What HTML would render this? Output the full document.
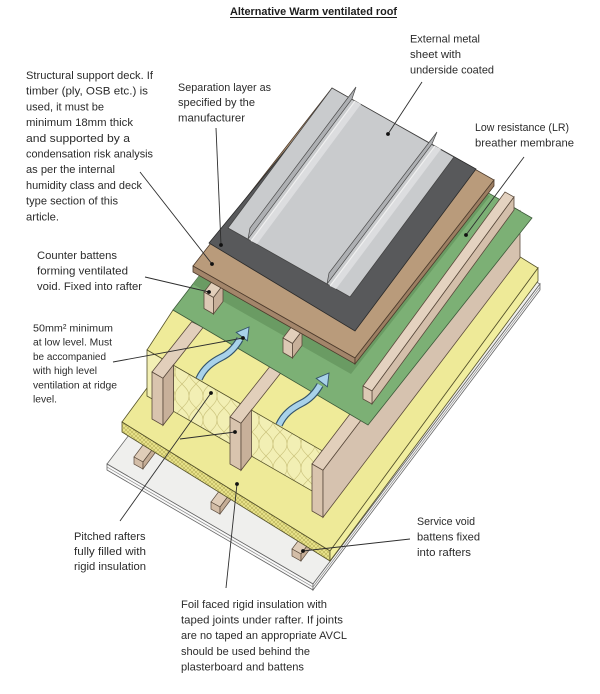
<!DOCTYPE html>
<html>
<head>
<meta charset="utf-8">
<style>
html,body{margin:0;padding:0;background:#fff;}
svg{display:block;}
text{font-family:"Liberation Sans",Arial,sans-serif;fill:#2b2b2b;}
</style>
</head>
<body>
<svg width="600" height="694" viewBox="0 0 600 694" xmlns="http://www.w3.org/2000/svg">
<defs>
  <pattern id="hatch" patternUnits="userSpaceOnUse" width="4" height="4">
    <rect width="4" height="4" fill="#e9e38c"/>
    <path d="M0,0 L4,4 M4,0 L0,4" stroke="#b9b158" stroke-width="0.6"/>
  </pattern>
  <pattern id="wavy" patternUnits="userSpaceOnUse" width="14" height="24">
    <rect width="14" height="24" fill="#f2efb4"/>
    <path d="M0,0 C6,6 7,8 7,12 C7,16 6,18 0,24 M14,0 C8,6 7,8 7,12 C7,16 8,18 14,24" stroke="#cbc37c" stroke-width="0.7" fill="none"/>
  </pattern>
  <clipPath id="greenclip">
    <polygon points="173,310 368,425 532,218 332,103"/>
  </clipPath>
</defs>

<!-- Plasterboard -->
<polygon points="107,464 313,584 540,284 334,164" fill="#efefed" stroke="#666" stroke-width="0.8"/>
<polygon points="107,464 313,584 313,590 107,470" fill="#fafafa" stroke="#666" stroke-width="0.8"/>
<polygon points="313,584 540,284 540,290 313,590" fill="#fafafa" stroke="#666" stroke-width="0.8"/>
<line x1="107" y1="467" x2="313" y2="587" stroke="#888" stroke-width="0.7"/>
<line x1="313" y1="587" x2="540" y2="287" stroke="#888" stroke-width="0.7"/>

<!-- Service void battens -->
<g stroke="#5a4a3c" stroke-width="0.7">
  <polygon points="134,457 143,462 158,442 149,437" fill="#e0cdb9"/>
  <polygon points="134,457 143,462 143,469 134,464" fill="#d3bda7"/>
  <polygon points="143,462 158,442 158,449 143,469" fill="#c5ad96"/>

  <polygon points="211,502 220,507 235,487 226,482" fill="#e0cdb9"/>
  <polygon points="211,502 220,507 220,514 211,509" fill="#d3bda7"/>
  <polygon points="220,507 235,487 235,494 220,514" fill="#c5ad96"/>

  <polygon points="292,549 301,554 316,534 307,529" fill="#e0cdb9"/>
  <polygon points="292,549 301,554 301,561 292,556" fill="#d3bda7"/>
  <polygon points="301,554 316,534 316,541 301,561" fill="#c5ad96"/>
</g>

<!-- Rigid foil faced board -->
<polygon points="122,422 330,551 538,268 330,139" fill="#eeea98" stroke="#55522a" stroke-width="0.8"/>
<polygon points="122,422 330,551 330,561 122,432" fill="url(#hatch)" stroke="#55522a" stroke-width="0.8"/>
<polygon points="330,551 538,268 538,281 330,561" fill="#f1ee9f" stroke="#55522a" stroke-width="0.8"/>

<!-- Insulation top between rafters -->
<polygon points="147,350 322,451 356,408 173,310" fill="#efeb99" stroke="#55522a" stroke-width="0.8"/>

<!-- Insulation front faces -->
<polygon points="147,350 162,358.6 162,404.6 147,396" fill="#f2efb4" stroke="#55522a" stroke-width="0.8"/>
<polygon points="173.5,365.3 240,403.5 240,449.5 173.5,411.3" fill="url(#wavy)" stroke="#55522a" stroke-width="0.8"/>
<polygon points="251,409.8 322,450.7 322,496.7 251,455.8" fill="url(#wavy)" stroke="#55522a" stroke-width="0.8"/>

<!-- Rafters -->
<g stroke="#5a4a3c" stroke-width="0.8">
  <polygon points="152,372 163,378.3 203.2,327.4 191.7,321.8" fill="#e2cfbb"/>
  <polygon points="152,372 163,378.3 163,425.3 152,419" fill="#d9c4ae"/>
  <polygon points="163,378.3 173.5,364.8 173.5,411.8 163,425.3" fill="#c8b09a"/>

  <polygon points="230,417 241,423.3 281.3,372.3 270.3,366" fill="#e2cfbb"/>
  <polygon points="230,417 241,423.3 241,470.3 230,464" fill="#d9c4ae"/>
  <polygon points="241,423.3 251.5,409.8 251.5,456.8 241,470.3" fill="#c8b09a"/>

  <polygon points="312,464 323,470.3 520,211 509,204.7" fill="#e2cfbb"/>
  <polygon points="312,464 323,470.3 323,517.3 312,511" fill="#d9c4ae"/>
  <polygon points="323,470.3 520,211 520,258 323,517.3" fill="#d6c2af"/>
</g>

<!-- Green membrane -->
<polygon points="173,310 368,425 532,218 332,103" fill="#7cb075" stroke="#3d5a3a" stroke-width="0.8"/>
<g clip-path="url(#greenclip)">
  <polygon points="189,282 351,374 490,196 328,104" fill="#6a9b63"/>
</g>

<!-- Counter battens -->
<g stroke="#5a4a3c" stroke-width="0.8">
  <polygon points="204,292 213.5,297.5 223,285 213.5,279.5" fill="#e2cfbb"/>
  <polygon points="204,292 213.5,297.5 213.5,314 204,308.5" fill="#ddc9b5"/>
  <polygon points="213.5,297.5 223,285 223,301.5 213.5,314" fill="#c8b09a"/>

  <polygon points="283,338 292.5,343.5 302,331 292.5,325.5" fill="#e2cfbb"/>
  <polygon points="283,338 292.5,343.5 292.5,358 283,352.5" fill="#ddc9b5"/>
  <polygon points="292.5,343.5 302,331 302,345.5 292.5,358" fill="#c8b09a"/>

  <polygon points="363,386 372,391 514,197 505,192" fill="#e4d2c0"/>
  <polygon points="372,391 514,197 514,210 372,404" fill="#d4bfab"/>
  <polygon points="363,386 372,391 372,404 363,399" fill="#ddc9b5"/>
</g>

<!-- Brown deck -->
<polygon points="193,266 355,358 494,180 332,88" fill="#b99b7b" stroke="#4d3b2c" stroke-width="0.8"/>
<polygon points="193,266 355,358 355,364 193,272" fill="#a3856a" stroke="#4d3b2c" stroke-width="0.8"/>
<polygon points="355,358 494,180 494,186 355,364" fill="#9c7e62" stroke="#4d3b2c" stroke-width="0.8"/>

<!-- Dark separation layer -->
<polygon points="209,243 355,331 476,169 335,90" fill="#58595b" stroke="#2a2a2a" stroke-width="0.8"/>

<!-- Metal sheet -->
<polygon points="228,228 350,297 454,157 332,88" fill="#c9cbcd" stroke="#444" stroke-width="0.8"/>
<polygon points="251,241 355,101 361,104 257,244" fill="#dcdddf"/>
<polygon points="330,286 435,146 441,149 336,289" fill="#dcdddf"/>
<polygon points="248,239 352,99 356,87 250,228" fill="#aeb0b3" stroke="#4a4a4a" stroke-width="0.7"/>
<polygon points="327,284 432,144 437,132 329,273" fill="#aeb0b3" stroke="#4a4a4a" stroke-width="0.7"/>
<line x1="251" y1="241" x2="355" y2="101" stroke="#f0f0f0" stroke-width="1.2"/>
<line x1="330" y1="286" x2="435" y2="146" stroke="#f0f0f0" stroke-width="1.2"/>

<!-- Arrows -->
<g id="arr1">
  <path d="M199,379 C204,368 212,362 222,357 C230,353 236,346 240,339" stroke="#34546a" stroke-width="7.5" fill="none"/>
  <path d="M199,379 C204,368 212,362 222,357 C230,353 236,346 240,339" stroke="#a8d2ea" stroke-width="5.2" fill="none"/>
  <polygon points="249,327 236.2,332.4 247.4,340.8" fill="#a8d2ea" stroke="#34546a" stroke-width="0.9"/>
</g>
<g transform="translate(80,46)">
  <path d="M199,379 C204,368 212,362 222,357 C230,353 236,346 240,339" stroke="#34546a" stroke-width="7.5" fill="none"/>
  <path d="M199,379 C204,368 212,362 222,357 C230,353 236,346 240,339" stroke="#a8d2ea" stroke-width="5.2" fill="none"/>
  <polygon points="249,327 236.2,332.4 247.4,340.8" fill="#a8d2ea" stroke="#34546a" stroke-width="0.9"/>
</g>

<!-- Leader lines -->
<g stroke="#2e2e2e" stroke-width="0.9">
  <line x1="140" y1="172" x2="212" y2="264"/>
  <line x1="216" y1="128" x2="221" y2="245"/>
  <line x1="422" y1="82" x2="388" y2="134"/>
  <line x1="524" y1="157" x2="466" y2="235"/>
  <line x1="145" y1="277" x2="209" y2="292"/>
  <line x1="113" y1="362" x2="243" y2="338"/>
  <line x1="120" y1="521" x2="211" y2="393"/>
  <line x1="180" y1="439" x2="235" y2="432"/>
  <line x1="226" y1="588" x2="237" y2="484"/>
  <line x1="410" y1="539" x2="303" y2="551"/>
</g>
<g fill="#111">
  <circle cx="212" cy="264" r="1.9"/>
  <circle cx="221" cy="245" r="1.9"/>
  <circle cx="388" cy="134" r="1.9"/>
  <circle cx="466" cy="235" r="1.9"/>
  <circle cx="209" cy="292" r="1.9"/>
  <circle cx="243" cy="338" r="1.9"/>
  <circle cx="211" cy="393" r="1.9"/>
  <circle cx="235" cy="432" r="1.9"/>
  <circle cx="237" cy="484" r="1.9"/>
  <circle cx="303" cy="551" r="1.9"/>
</g>

<!-- Title -->
<text x="230" y="15" font-size="11" font-weight="bold" textLength="167" lengthAdjust="spacingAndGlyphs" style="fill:#1e1e1e">Alternative Warm ventilated roof</text>
<line x1="230" y1="17.5" x2="397" y2="17.5" stroke="#1e1e1e" stroke-width="0.9"/>

<!-- Block 1 -->
<g font-size="11">
  <text x="26" y="79" textLength="127" lengthAdjust="spacingAndGlyphs">Structural support deck. If</text>
  <text x="26" y="94.7" textLength="122" lengthAdjust="spacingAndGlyphs">timber (ply, OSB etc.) is</text>
  <text x="26" y="110.4" textLength="78" lengthAdjust="spacingAndGlyphs">used, it must be</text>
  <text x="26" y="126.1" textLength="107" lengthAdjust="spacingAndGlyphs">minimum 18mm thick</text>
  <text x="26" y="141.8" textLength="104" lengthAdjust="spacingAndGlyphs">and supported by a</text>
  <text x="26" y="157.5" textLength="127" lengthAdjust="spacingAndGlyphs">condensation risk analysis</text>
  <text x="26" y="173.2" textLength="89" lengthAdjust="spacingAndGlyphs">as per the internal</text>
  <text x="26" y="188.9" textLength="116" lengthAdjust="spacingAndGlyphs">humidity class and deck</text>
  <text x="26" y="204.6" textLength="92" lengthAdjust="spacingAndGlyphs">type section of this</text>
  <text x="26" y="220.3" textLength="33" lengthAdjust="spacingAndGlyphs">article.</text>
</g>

<!-- Block 2 -->
<g font-size="11">
  <text x="178" y="91" textLength="93" lengthAdjust="spacingAndGlyphs">Separation layer as</text>
  <text x="178" y="106" textLength="77" lengthAdjust="spacingAndGlyphs">specified by the</text>
  <text x="178" y="121.5" textLength="67" lengthAdjust="spacingAndGlyphs">manufacturer</text>
</g>

<!-- Block 3 -->
<g font-size="11">
  <text x="410" y="42.5" textLength="70" lengthAdjust="spacingAndGlyphs">External metal</text>
  <text x="410" y="58" textLength="51" lengthAdjust="spacingAndGlyphs">sheet with</text>
  <text x="410" y="73.5" textLength="84" lengthAdjust="spacingAndGlyphs">underside coated</text>
</g>

<!-- Block 4 -->
<g font-size="11">
  <text x="475" y="131" textLength="94" lengthAdjust="spacingAndGlyphs">Low resistance (LR)</text>
  <text x="475" y="146.5" textLength="99" lengthAdjust="spacingAndGlyphs">breather membrane</text>
</g>

<!-- Block 5 -->
<g font-size="11">
  <text x="37" y="259" textLength="80" lengthAdjust="spacingAndGlyphs">Counter battens</text>
  <text x="37" y="274.5" textLength="91" lengthAdjust="spacingAndGlyphs">forming ventilated</text>
  <text x="37" y="290" textLength="105" lengthAdjust="spacingAndGlyphs">void. Fixed into rafter</text>
</g>

<!-- Block 6 -->
<g font-size="10">
  <text x="33" y="331.5" textLength="80" lengthAdjust="spacingAndGlyphs">50mm² minimum</text>
  <text x="33" y="345.7" textLength="79" lengthAdjust="spacingAndGlyphs">at low level. Must</text>
  <text x="33" y="359.9" textLength="73" lengthAdjust="spacingAndGlyphs">be accompanied</text>
  <text x="33" y="374.1" textLength="64" lengthAdjust="spacingAndGlyphs">with high level</text>
  <text x="33" y="388.3" textLength="84" lengthAdjust="spacingAndGlyphs">ventilation at ridge</text>
  <text x="33" y="402.5" textLength="24" lengthAdjust="spacingAndGlyphs">level.</text>
</g>

<!-- Block 7 -->
<g font-size="11">
  <text x="74" y="540" textLength="71.5" lengthAdjust="spacingAndGlyphs">Pitched rafters</text>
  <text x="74" y="555" textLength="72" lengthAdjust="spacingAndGlyphs">fully filled with</text>
  <text x="74" y="570" textLength="72" lengthAdjust="spacingAndGlyphs">rigid insulation</text>
</g>

<!-- Block 8 -->
<g font-size="11">
  <text x="181" y="608" textLength="146" lengthAdjust="spacingAndGlyphs">Foil faced rigid insulation with</text>
  <text x="181" y="623.6" textLength="162" lengthAdjust="spacingAndGlyphs">taped joints under rafter. If joints</text>
  <text x="181" y="639.2" textLength="166" lengthAdjust="spacingAndGlyphs">are no taped an appropriate AVCL</text>
  <text x="181" y="654.8" textLength="129" lengthAdjust="spacingAndGlyphs">should be used behind the</text>
  <text x="181" y="670.4" textLength="123" lengthAdjust="spacingAndGlyphs">plasterboard and battens</text>
</g>

<!-- Block 9 -->
<g font-size="11">
  <text x="417" y="525" textLength="58" lengthAdjust="spacingAndGlyphs">Service void</text>
  <text x="417" y="540.7" textLength="63" lengthAdjust="spacingAndGlyphs">battens fixed</text>
  <text x="417" y="556" textLength="54" lengthAdjust="spacingAndGlyphs">into rafters</text>
</g>
</svg>
</body>
</html>
